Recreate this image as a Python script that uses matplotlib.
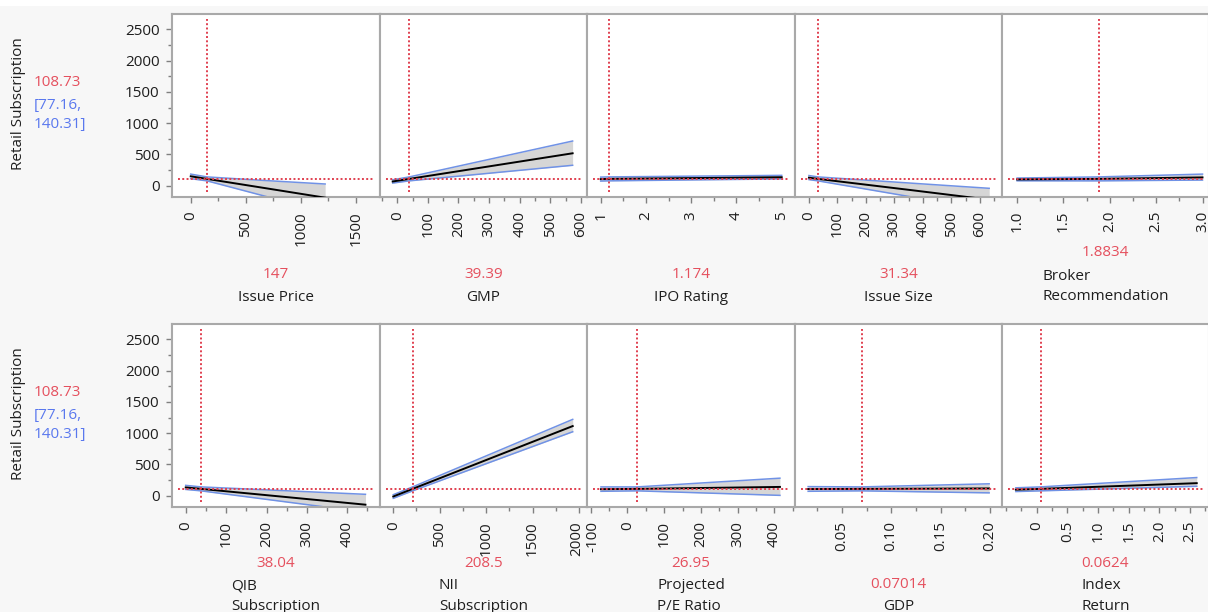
import matplotlib
matplotlib.use("Agg")
import matplotlib.pyplot as plt
import matplotlib.transforms as mtransforms
from matplotlib.ticker import MultipleLocator, FixedLocator, FixedFormatter

plt.rcParams['font.family'] = ['Open Sans', 'DejaVu Sans']

# ---------------- data ----------------
response_name = "Retail Subscription"
response_value = "108.73"
response_ci = "[77.16,\n140.31]"
response_current = 108.73

factor_names = ["Issue Price", "GMP", "IPO Rating", "Issue Size", "Broker\nRecommendation",
                "QIB\nSubscription", "NII\nSubscription", "Projected\nP/E Ratio", "GDP", "Index\nReturn"]
factor_current = [147, 39.39, 1.174, 31.34, 1.8834, 38.04, 208.5, 26.95, 0.07014, 0.0624]
factor_current_text = ["147", "39.39", "1.174", "31.34", "1.8834", "38.04", "208.5", "26.95", "0.07014", "0.0624"]

issue_price_x = [0, 147, 700, 1220]
issue_price_pred = [150, 108.73, -46, -192]
issue_price_lower = [112, 77.16, -180, -580]
issue_price_upper = [185, 140.31, 80, 27]

gmp_x = [-15, 39.39, 573]
gmp_pred = [67, 108.73, 518]
gmp_lower = [42, 77.16, 326]
gmp_upper = [94, 140.31, 714]

ipo_rating_x = [1, 1.174, 5]
ipo_rating_pred = [105, 108.73, 135]
ipo_rating_lower = [74, 77.16, 108]
ipo_rating_upper = [137, 140.31, 165]

issue_size_x = [0, 31.34, 361, 633]
issue_size_pred = [128, 108.73, -72, -224]
issue_size_lower = [97, 77.16, -180, -392]
issue_size_upper = [162, 140.31, 40, -42]

broker_x = [1, 1.8834, 3]
broker_pred = [100, 108.73, 132]
broker_lower = [78, 77.16, 90]
broker_upper = [122, 140.31, 185]

qib_x = [0, 38.04, 344, 445]
qib_pred = [132, 108.73, -81, -144]
qib_lower = [100, 77.16, -180, -265]
qib_upper = [165, 140.31, 51, 22]

nii_x = [0, 208.5, 1933]
nii_pred = [-13, 108.73, 1113]
nii_lower = [-42, 77.16, 1022]
nii_upper = [16, 140.31, 1220]

pe_x = [-72, 26.95, 415]
pe_pred = [104, 108.73, 140]
pe_lower = [70, 77.16, 5]
pe_upper = [140, 140.31, 280]

gdp_x = [0.016, 0.07014, 0.199]
gdp_pred = [106, 108.73, 116]
gdp_lower = [70, 77.16, 45]
gdp_upper = [145, 140.31, 190]

index_x = [-0.34, 0.0624, 2.61]
index_pred = [96, 108.73, 200]
index_lower = [66, 77.16, 150]
index_upper = [126, 140.31, 290]

y_ticks = [0, 500, 1000, 1500, 2000, 2500]
y_tick_labels = ["0", "500", "1000", "1500", "2000", "2500"]

x_ticks = [
    [0, 500, 1000, 1500],
    [0, 100, 200, 300, 400, 500, 600],
    [1, 2, 3, 4, 5],
    [0, 100, 200, 300, 400, 500, 600],
    [1.0, 1.5, 2.0, 2.5, 3.0],
    [0, 100, 200, 300, 400],
    [0, 500, 1000, 1500, 2000],
    [-100, 0, 100, 200, 300, 400],
    [0.05, 0.10, 0.15, 0.20],
    [0, 0.5, 1.0, 1.5, 2.0, 2.5],
]
x_tick_labels = [
    ["0", "500", "1000", "1500"],
    ["0", "100", "200", "300", "400", "500", "600"],
    ["1", "2", "3", "4", "5"],
    ["0", "100", "200", "300", "400", "500", "600"],
    ["1.0", "1.5", "2.0", "2.5", "3.0"],
    ["0", "100", "200", "300", "400"],
    ["0", "500", "1000", "1500", "2000"],
    ["-100", "0", "100", "200", "300", "400"],
    ["0.05", "0.10", "0.15", "0.20"],
    ["0", "0.5", "1.0", "1.5", "2.0", "2.5"],
]

# ---------------- layout / style ----------------
x_minor = [250, 50, 0.5, 50, 0.25, 50, 250, 50, 0.025, 0.25]
x_limits = [(-170, 1718), (-56.5, 620), (0.697, 5.294), (-49, 678), (0.837, 3.07),
            (-34, 481), (-143, 2087), (-110, 456), (0.0027, 0.212), (-0.566, 2.81)]
y_limits = (-181, 2745)

curves = [
    (issue_price_x, issue_price_pred, issue_price_lower, issue_price_upper),
    (gmp_x, gmp_pred, gmp_lower, gmp_upper),
    (ipo_rating_x, ipo_rating_pred, ipo_rating_lower, ipo_rating_upper),
    (issue_size_x, issue_size_pred, issue_size_lower, issue_size_upper),
    (broker_x, broker_pred, broker_lower, broker_upper),
    (qib_x, qib_pred, qib_lower, qib_upper),
    (nii_x, nii_pred, nii_lower, nii_upper),
    (pe_x, pe_pred, pe_lower, pe_upper),
    (gdp_x, gdp_pred, gdp_lower, gdp_upper),
    (index_x, index_pred, index_lower, index_upper),
]

W, H = 1208, 612
BG = '#f7f7f7'
FRAME = '#a9a9a9'
RED = '#e04050'
RED_TXT = '#e5505e'
BLUE_TXT = '#5a78ee'
BAND = '#d6d6d6'
BAND_EDGE = '#7092e6'
TXT = '#1e1e1e'
FS = 11

fig = plt.figure(figsize=(W / 100, H / 100), dpi=100, facecolor=BG)
# white strip on top
fig.patches.append(plt.Rectangle((0, 1 - 6 / H), 1, 6 / H, transform=fig.transFigure,
                                 facecolor='white', edgecolor='none', zorder=0))

col_edges = [172, 380, 587, 795, 1002, 1209]
row_tops = [14, 324]
row_h = 183


def px_axes(x0, x1, ytop, ybot):
    return fig.add_axes([x0 / W, 1 - ybot / H, (x1 - x0) / W, (ybot - ytop) / H])


axes = []
for i in range(10):
    r, c = divmod(i, 5)
    ytop = row_tops[r]
    ax = px_axes(col_edges[c], col_edges[c + 1], ytop, ytop + row_h)
    axes.append(ax)
    ax.set_facecolor('white')
    for s in ax.spines.values():
        s.set_color(FRAME)
        s.set_linewidth(1.5)
    ax.set_xlim(*x_limits[i])
    ax.set_ylim(*y_limits)

    xs, pr, lo, up = curves[i]
    ax.fill_between(xs, lo, up, color=BAND, lw=0, zorder=1)
    ax.plot(xs, lo, color=BAND_EDGE, lw=1.1, zorder=2)
    ax.plot(xs, up, color=BAND_EDGE, lw=1.1, zorder=2)
    ax.plot(xs, pr, color='black', lw=1.4, zorder=3)

    ax.axhline(response_current, xmin=0.03, xmax=0.97, color=RED, lw=1.4,
               linestyle=(0, (1, 1.2)), zorder=4)
    ax.axvline(factor_current[i], ymin=0.03, ymax=0.97, color=RED, lw=1.4,
               linestyle=(0, (1, 1.2)), zorder=4)

    ax.xaxis.set_major_locator(FixedLocator(x_ticks[i]))
    ax.xaxis.set_major_formatter(FixedFormatter(x_tick_labels[i]))
    ax.xaxis.set_minor_locator(MultipleLocator(x_minor[i]))
    ax.tick_params(axis='x', which='major', direction='out', length=4, width=1,
                   color='#808080', labelsize=FS, labelrotation=90, pad=6, labelcolor=TXT)
    ax.tick_params(axis='x', which='minor', direction='out', length=3, width=1, color='#808080')

    if c == 0:
        ax.yaxis.set_major_locator(FixedLocator(y_ticks))
        ax.yaxis.set_major_formatter(FixedFormatter(y_tick_labels))
        ax.yaxis.set_minor_locator(MultipleLocator(250))
        ax.tick_params(axis='y', which='major', direction='out', length=4, width=1,
                       color='#808080', labelsize=FS, pad=5, labelcolor=TXT)
        ax.tick_params(axis='y', which='minor', direction='out', length=3, width=1, color='#808080')
    else:
        ax.tick_params(axis='y', which='both', left=False, labelleft=False)

    # factor labels
    xc = (col_edges[c] + col_edges[c + 1]) / 2 / W
    multi = '\n' in factor_names[i]
    if r == 0:
        name_c = 286.5 if multi else 297
        val_c = 253 if multi else 274
    else:
        name_c = 596 if multi else 606
        val_c = 563.3 if multi else 584
    fig.text(xc, 1 - val_c / H, factor_current_text[i], color=RED_TXT, fontsize=FS,
             ha='center', va='center')
    fig.text(xc, 1 - name_c / H, factor_names[i], color=TXT, fontsize=FS,
             ha='center', va='center', multialignment='left', linespacing=1.52)

# nudge the two touching labels ("2000" and "-100") slightly apart
fig.canvas.draw()
for lbl in axes[6].get_xticklabels():
    if lbl.get_text() == "2000":
        lbl.set_transform(lbl.get_transform() + mtransforms.ScaledTranslation(-2.5 / 100, 0, fig.dpi_scale_trans))
for lbl in axes[7].get_xticklabels():
    if lbl.get_text() == "-100":
        lbl.set_transform(lbl.get_transform() + mtransforms.ScaledTranslation(2.5 / 100, 0, fig.dpi_scale_trans))

# response labels on the left
for r in range(2):
    off = row_tops[r] - 14
    fig.text(19 / W, 1 - (104 + off) / H, response_name, rotation=90, fontsize=FS,
             color=TXT, ha='center', va='center')
    fig.text(34 / W, 1 - (83 + off) / H, response_value, color=RED_TXT, fontsize=FS,
             ha='left', va='center')
    fig.text(34 / W, 1 - (115 + off) / H, response_ci, color=BLUE_TXT, fontsize=FS,
             ha='left', va='center', linespacing=1.45)

fig.savefig('out.png', dpi=100, facecolor=BG)
